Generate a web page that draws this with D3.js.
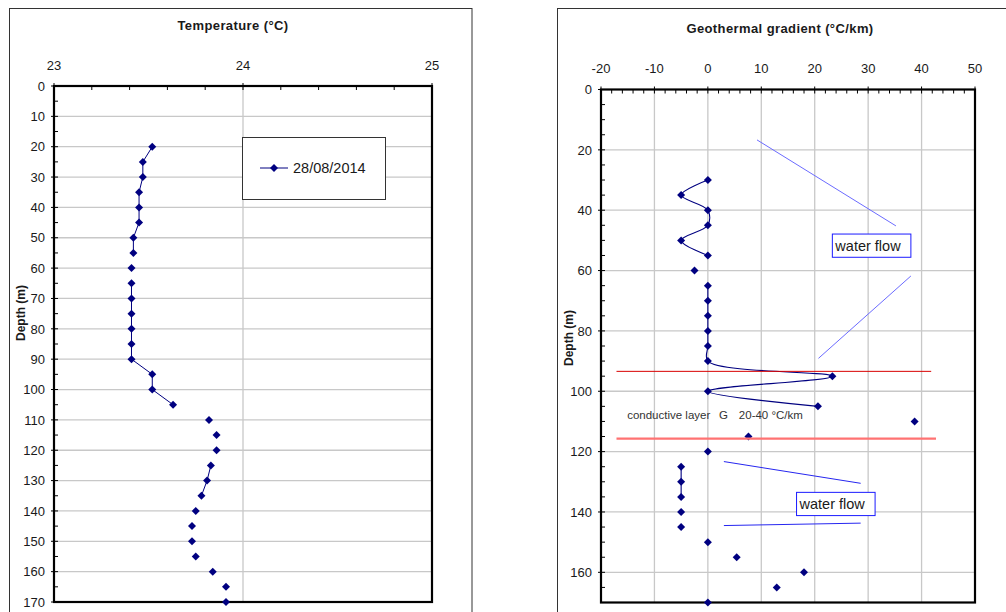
<!DOCTYPE html>
<html><head><meta charset="utf-8">
<script src="https://cdn.jsdelivr.net/npm/d3@7/dist/d3.min.js"></script>
<style>
body{margin:0;background:#fff}
svg{display:block}
text{font-family:"Liberation Sans",Arial,sans-serif;fill:#1a1a1a}
</style>
</head><body>
<svg id="c" width="1006" height="612"></svg>
<script>
// ---------- data ----------
const tempDepths = [20,25,30,35,40,45,50,55,60,65,70,75,80,85,90,95,100,105,110,115,120,125,130,135,140,145,150,155,160,165,170];
const temperature = [23.52,23.47,23.47,23.45,23.45,23.45,23.42,23.42,23.41,23.41,23.41,23.41,23.41,23.41,23.41,23.52,23.52,23.63,23.82,23.86,23.86,23.83,23.81,23.78,23.75,23.73,23.73,23.75,23.84,23.91,23.91];
const tempSegments = [[20,55],[65,105],[125,135]];

const gradDepths = [30,35,40,45,50,55,60,65,70,75,80,85,90,95,100,105,110,115,120,125,130,135,140,145,150,155,160,165,170];
const gradient = [0,-5,0,0,-5,0,-2.5,0,0,0,0,0,0,23.3,0,20.6,38.7,7.6,0,-5,-5,-5,-5,-5,0,5.4,18.0,12.9,0];
const gradSegments = [[30,55],[65,105],[125,135]];

const tempTicks = [23,24,25];
const tempDepthTicks = [0,10,20,30,40,50,60,70,80,90,100,110,120,130,140,150,160,170];
const gradTicks = [-20,-10,0,10,20,30,40,50];
const gradDepthTicks = [0,20,40,60,80,100,120,140,160];

const legendLabel = "28/08/2014";
const leftTitle = "Temperature (°C)";
const rightTitle = "Geothermal gradient (°C/km)";
const depthLabel = "Depth (m)";

// annotations in data units (gradient, depth)
const flowLines = [
  {pts:[[9.2,16.7],[35.2,45.2]], color:"#6b6bff"},
  {pts:[[38.0,61.8],[20.7,89.1]], color:"#6b6bff"},
  {pts:[[3.0,123.3],[28.6,130.5]], color:"#2626f0"},
  {pts:[[3.0,144.5],[28.6,143.7]], color:"#2626f0"}
];
const flowBoxes = [
  {x0:23.3,x1:38.0,d0:47.9,d1:55.6,label:"water flow"},
  {x0:16.6,x1:31.3,d0:133.5,d1:141.2,label:"water flow"}
];
const layerLines = [
  {depth:93.4, x0:-17.1, x1:41.8, color:"#d80000", w:1},
  {depth:115.7, x0:-17.1, x1:42.7, color:"#ff7272", w:2.2}
];
const layerText = [
  {x:-15.1, depth:109.3, t:"conductive layer"},
  {x:2.1, depth:109.3, t:"G"},
  {x:5.8, depth:109.3, t:"20-40 °C/km"}
];

// ---------- drawing ----------
const svg = d3.select("#c");
const navy = "#000080";
const gridC = "#c8c8c8";
const diamond = "M0,-4L4,0L0,4L-4,0Z";

// frames
svg.append("rect").attr("x",9.5).attr("y",8.5).attr("width",462.5).attr("height",640)
  .attr("fill","none").attr("stroke","#333").attr("stroke-width",1);
svg.append("rect").attr("x",557.5).attr("y",8.5).attr("width",600).attr("height",640)
  .attr("fill","none").attr("stroke","#333").attr("stroke-width",1);

function panel(opt){
  const g = svg.append("g");
  const x = d3.scaleLinear().domain(opt.xDomain).range([opt.left,opt.right]);
  const y = d3.scaleLinear().domain([0,170]).range([opt.top,opt.bottom]);
  // grid
  g.append("g").selectAll("line").data(opt.xTicks.slice(1,-1)).join("line")
    .attr("x1",d=>x(d)).attr("x2",d=>x(d)).attr("y1",opt.top).attr("y2",opt.bottom)
    .attr("stroke",gridC).attr("stroke-width",1.3);
  g.append("g").selectAll("line").data(opt.yTicks.filter(d=>d>0&&d<170)).join("line")
    .attr("y1",d=>y(d)).attr("y2",d=>y(d)).attr("x1",opt.left).attr("x2",opt.right)
    .attr("stroke",gridC).attr("stroke-width",1.3);
  // minor ticks (inward)
  const xMinor = d3.range(opt.xDomain[0], opt.xDomain[1]+1e-9, opt.xMinorStep);
  g.append("g").selectAll("line").data(xMinor).join("line")
    .attr("x1",d=>x(d)).attr("x2",d=>x(d)).attr("y1",opt.top).attr("y2",opt.top+4)
    .attr("stroke","#000").attr("stroke-width",1);
  const yMinor = d3.range(0,171,5);
  g.append("g").selectAll("line").data(yMinor).join("line")
    .attr("y1",d=>y(d)).attr("y2",d=>y(d)).attr("x1",opt.left).attr("x2",opt.left+4)
    .attr("stroke","#000").attr("stroke-width",1);
  // major ticks (outward)
  g.append("g").selectAll("line").data(opt.xTicks).join("line")
    .attr("x1",d=>x(d)).attr("x2",d=>x(d)).attr("y1",opt.top-3).attr("y2",opt.top)
    .attr("stroke","#000");
  g.append("g").selectAll("line").data(opt.yTicks).join("line")
    .attr("y1",d=>y(d)).attr("y2",d=>y(d)).attr("x1",opt.left-3).attr("x2",opt.left)
    .attr("stroke","#000");
  // border
  g.append("rect").attr("x",opt.left).attr("y",opt.top)
    .attr("width",opt.right-opt.left).attr("height",opt.bottom-opt.top)
    .attr("fill","none").attr("stroke","#000").attr("stroke-width",2.2);
  // tick labels
  g.append("g").selectAll("text").data(opt.xTicks).join("text")
    .attr("x",d=>x(d)).attr("y",opt.xLabelY).attr("text-anchor","middle")
    .attr("font-size",13).text(d=>d);
  g.append("g").selectAll("text").data(opt.yTicks).join("text")
    .attr("x",opt.left-9).attr("y",d=>y(d)).attr("dy","0.36em").attr("text-anchor","end")
    .attr("font-size",13).text(d=>d);
  // title
  g.append("text").attr("x",opt.titleX).attr("y",opt.titleY).attr("text-anchor","middle")
    .attr("font-size",13).attr("font-weight","bold").attr("letter-spacing","0.4px").text(opt.title);
  g.append("text").attr("transform",`translate(${opt.ylabX},${opt.ylabY}) rotate(-90)`)
    .attr("text-anchor","middle").attr("font-size",12).attr("font-weight","bold").text(depthLabel);
  return {g,x,y};
}

// ---- left panel ----
const L = panel({xDomain:[23,25], left:54, right:432, top:86, bottom:602,
  xTicks:tempTicks, yTicks:tempDepthTicks, xMinorStep:0.2, xLabelY:70,
  title:leftTitle, titleX:233, titleY:30, ylabX:25, ylabY:313});
const tData = tempDepths.map((d,i)=>({d, v:temperature[i]}));
const lineL = d3.line().x(p=>L.x(p.v)).y(p=>L.y(p.d));
tempSegments.forEach(([a,b])=>{
  L.g.append("path").datum(tData.filter(p=>p.d>=a&&p.d<=b))
    .attr("d",lineL).attr("fill","none").attr("stroke",navy).attr("stroke-width",1);
});
L.g.append("g").selectAll("path").data(tData).join("path")
  .attr("d",diamond).attr("transform",p=>`translate(${L.x(p.v)},${L.y(p.d)})`).attr("fill",navy);

// legend
const lg = svg.append("g");
lg.append("rect").attr("x",242.5).attr("y",137.5).attr("width",143).attr("height",62)
  .attr("fill","#fff").attr("stroke","#333").attr("stroke-width",1);
lg.append("line").attr("x1",260).attr("x2",288).attr("y1",168).attr("y2",168).attr("stroke",navy);
lg.append("path").attr("d",diamond).attr("transform","translate(274,168)").attr("fill",navy);
lg.append("text").attr("x",293).attr("y",173).attr("font-size",14.5).text(legendLabel);

// ---- right panel ----
const R = panel({xDomain:[-20,50], left:601, right:975, top:89.5, bottom:602.5,
  xTicks:gradTicks, yTicks:gradDepthTicks, xMinorStep:2, xLabelY:73,
  title:rightTitle, titleX:780, titleY:33, ylabX:573, ylabY:338});
const gData = gradDepths.map((d,i)=>({d, v:gradient[i]}));
const lineR = d3.line().x(p=>R.x(p.v)).y(p=>R.y(p.d)).curve(d3.curveCatmullRom.alpha(0.5));
gradSegments.forEach(([a,b])=>{
  R.g.append("path").datum(gData.filter(p=>p.d>=a&&p.d<=b))
    .attr("d",lineR).attr("fill","none").attr("stroke",navy).attr("stroke-width",1.1);
});
R.g.append("g").selectAll("path").data(gData).join("path")
  .attr("d",diamond).attr("transform",p=>`translate(${R.x(p.v)},${R.y(p.d)})`).attr("fill",navy);

// annotations
const ann = svg.append("g");
ann.selectAll("line.l").data(layerLines).join("line")
  .attr("x1",d=>R.x(d.x0)).attr("x2",d=>R.x(d.x1)).attr("y1",d=>R.y(d.depth)).attr("y2",d=>R.y(d.depth))
  .attr("stroke",d=>d.color).attr("stroke-width",d=>d.w);
ann.selectAll("line.f").data(flowLines).join("line")
  .attr("x1",d=>R.x(d.pts[0][0])).attr("y1",d=>R.y(d.pts[0][1]))
  .attr("x2",d=>R.x(d.pts[1][0])).attr("y2",d=>R.y(d.pts[1][1]))
  .attr("stroke",d=>d.color).attr("stroke-width",1);
const bx = ann.selectAll("g.b").data(flowBoxes).join("g");
bx.append("rect").attr("x",d=>R.x(d.x0)).attr("y",d=>R.y(d.d0))
  .attr("width",d=>R.x(d.x1)-R.x(d.x0)).attr("height",d=>R.y(d.d1)-R.y(d.d0))
  .attr("fill","#fff").attr("stroke","#1a1aff").attr("stroke-width",1);
bx.append("text").attr("x",d=>R.x(d.x0)+3).attr("y",d=>(R.y(d.d0)+R.y(d.d1))/2).attr("dy","0.36em")
  .attr("font-size",14.5).text(d=>d.label);
ann.selectAll("text.c").data(layerText).join("text")
  .attr("x",d=>R.x(d.x)).attr("y",d=>R.y(d.depth)).attr("font-size",11.5).style("fill","#333")
  .text(d=>d.t);
</script>
</body></html>
